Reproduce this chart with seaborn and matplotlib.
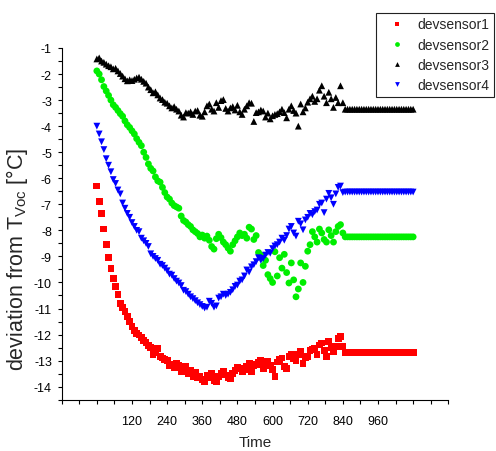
import matplotlib
matplotlib.use('Agg')
import matplotlib.pyplot as plt
import seaborn as sns
import pandas as pd

# sampling grid (s) and the values
time = list(range(0, 848, 8))
hold_time = list(range(848, 1088, 8))

sensor_names = ['devsensor1', 'devsensor2', 'devsensor3', 'devsensor4']
sensor_colors = ['#ff0000', '#00ee00', '#000000', '#0000ff']
sensor_markers = ['s', 'o', '^', 'v']

devsensor1 = [
    -6.3, -6.9, -7.35, -7.95, -8.55, -9.05, -9.45, -9.85, -10.15, -10.45,
    -10.8, -10.95, -11.12, -11.3, -11.5, -11.7, -11.85, -11.95, -12.02, -12.12,
    -12.22, -12.3, -12.42, -12.5, -12.75, -12.7, -12.55, -12.85, -12.9, -12.95,
    -12.98, -13.18, -13.15, -13.25, -13.1, -13.2, -13.42, -13.28, -13.22, -13.5,
    -13.38, -13.6, -13.45, -13.65, -13.6, -13.72, -13.8, -13.55, -13.65, -13.5,
    -13.75, -13.82, -13.6, -13.5, -13.42, -13.55, -13.65, -13.68, -13.48, -13.38,
    -13.25, -13.3, -13.42, -13.35, -13.22, -13.12, -13.42, -13.2, -13.15, -13.05,
    -13.0, -13.3, -13.05, -13.02, -13.18, -13.35, -13.62, -13.05, -12.95, -12.9,
    -13.22, -13.3, -12.85, -12.78, -12.92, -12.98, -12.75, -12.65, -13.1, -12.88,
    -12.85, -12.62, -12.58, -12.52, -12.78, -12.4, -12.32, -12.6, -12.85, -12.28,
    -12.5, -12.66, -12.45, -12.15, -12.08, -12.47,
]
devsensor2 = [
    -1.88, -2.0, -2.22, -2.48, -2.65, -2.82, -3.0, -3.18, -3.28, -3.4,
    -3.52, -3.62, -3.8, -3.95, -4.05, -4.18, -4.3, -4.48, -4.62, -4.75,
    -5.0, -5.2, -5.45, -5.62, -5.72, -5.95, -6.1, -6.15, -6.35, -6.55,
    -6.72, -6.8, -6.95, -7.05, -7.1, -7.15, -7.45, -7.62, -7.68, -7.78,
    -7.85, -7.98, -8.05, -8.12, -8.25, -8.18, -8.3, -8.22, -8.38, -8.62,
    -8.72, -8.32, -8.15, -8.28, -8.45, -8.55, -8.68, -8.8, -8.55, -8.4,
    -8.25, -8.1, -8.2, -8.15, -8.3, -7.88, -7.95, -8.35, -8.2, -8.85,
    -8.95, -9.35, -9.15, -9.7, -9.85, -10.0, -8.82, -9.75, -9.05, -9.45,
    -8.92, -9.62, -10.02, -9.25, -9.9, -10.55, -10.25, -9.25, -10.0, -9.38,
    -8.8, -8.55, -8.05, -8.25, -8.45, -7.95, -8.1, -8.35, -8.45, -7.98,
    -8.2, -8.45, -8.05, -7.85, -7.78, -8.1,
]
devsensor3 = [
    -1.42, -1.38, -1.5, -1.55, -1.62, -1.68, -1.72, -1.8, -1.78, -1.88,
    -1.98, -2.08, -2.18, -2.26, -2.22, -2.25, -2.2, -2.15, -2.12, -2.2,
    -2.28, -2.35, -2.5, -2.6, -2.72, -2.68, -2.8, -2.92, -2.98, -3.08,
    -3.12, -3.22, -3.3, -3.25, -3.35, -3.42, -3.58, -3.65, -3.48, -3.5,
    -3.45, -3.55, -3.42, -3.4, -3.58, -3.62, -3.45, -3.22, -3.15, -3.35,
    -3.42, -3.1, -3.28, -3.02, -2.98, -3.32, -3.42, -3.3, -3.25, -3.38,
    -3.2, -3.45, -3.55, -3.35, -3.22, -3.1, -3.12, -3.82, -3.48, -3.45,
    -3.38, -3.42, -3.65, -3.5, -3.72, -3.6, -3.55, -3.52, -3.45, -3.35,
    -3.48, -3.68, -3.35, -3.22, -3.4, -3.5, -4.0, -3.15, -3.45, -3.3,
    -3.08, -2.95, -2.85, -3.05, -2.95, -2.62, -2.45, -2.85, -3.1, -2.7,
    -2.95, -3.28, -2.9, -3.1, -2.45, -3.1,
]
devsensor4 = [
    -4.0, -4.3, -4.6, -4.9, -5.25, -5.5, -5.75, -6.05, -6.2, -6.45,
    -6.6, -6.95, -7.15, -7.35, -7.5, -7.7, -7.85, -8.0, -8.05, -8.3,
    -8.4, -8.5, -8.62, -8.9, -9.0, -9.08, -9.15, -9.3, -9.35, -9.45,
    -9.55, -9.68, -9.72, -9.85, -9.95, -10.02, -10.12, -10.3, -10.35, -10.45,
    -10.55, -10.62, -10.7, -10.78, -10.85, -10.92, -10.98, -10.95, -10.72, -10.8,
    -10.95, -10.9, -10.6, -10.55, -10.45, -10.5, -10.45, -10.38, -10.28, -10.15,
    -10.1, -9.95, -9.9, -9.75, -9.52, -9.6, -9.4, -9.32, -9.2, -9.05,
    -9.15, -9.08, -8.95, -8.85, -8.88, -8.7, -8.6, -8.55, -8.45, -8.3,
    -8.38, -8.2, -7.95, -7.85, -8.1, -8.22, -7.65, -7.75, -7.98, -7.6,
    -7.5, -7.35, -7.4, -7.28, -7.22, -7.0, -6.95, -7.32, -6.8, -6.58,
    -6.75, -7.0, -6.6, -6.35, -6.3, -6.55,
]
# level each sensor is held at after ~850 s
hold_level = [-12.68, -8.25, -3.35, -6.53]

x_major = list(range(-120, 1201, 120))
x_labels = ['120', '240', '360', '480', '600', '720', '840', '960']
y_major = list(range(-14, 0))


def build_frame():
    parts = []
    series = [devsensor1, devsensor2, devsensor3, devsensor4]
    for name, values, level in zip(sensor_names, series, hold_level):
        parts.append(pd.DataFrame({'Time': time, 'dev': values, 'sensor': name}))
        parts.append(pd.DataFrame({'Time': hold_time, 'dev': level, 'sensor': name}))
    return pd.concat(parts, ignore_index=True)


def make_plot():
    df = build_frame()

    sns.set_style('ticks')
    plt.rcParams['font.family'] = ['Liberation Sans', 'DejaVu Sans']
    plt.rcParams['mathtext.fontset'] = 'custom'
    plt.rcParams['mathtext.rm'] = 'Liberation Sans'
    plt.rcParams['axes.unicode_minus'] = False

    fig = plt.figure(figsize=(4.96, 4.52), dpi=100)
    ax = fig.add_axes([0.1244, 0.1135, 0.7794, 0.7781])

    sns.scatterplot(data=df, x='Time', y='dev', hue='sensor', style='sensor',
                    palette=dict(zip(sensor_names, sensor_colors)),
                    markers=dict(zip(sensor_names, sensor_markers)),
                    s=24, linewidth=0, ax=ax)

    ax.set_xlim(-120, 1200)
    ax.set_ylim(-14.5, -1)

    xl = [''] * len(x_major)
    for i, t in enumerate(x_major):
        if str(t) in x_labels:
            xl[i] = str(t)
    ax.set_xticks(x_major, labels=xl)
    ax.set_xticks([t + 60 for t in x_major[:-1]], minor=True)
    ax.set_yticks(y_major, labels=[str(v) for v in y_major])
    ax.set_yticks([v + 0.5 for v in range(-15, -1)], minor=True)

    ax.tick_params(which='both', direction='out', length=3, width=0.8, colors='black')
    ax.tick_params(axis='x', which='major', labelsize=9, pad=8)
    ax.tick_params(axis='y', which='major', labelsize=9, pad=4)
    sns.despine(ax=ax)
    for sp in ['left', 'bottom']:
        ax.spines[sp].set_linewidth(0.8)
        ax.spines[sp].set_color('black')

    ax.set_xlabel('Time', fontsize=11)
    ax.set_ylabel('deviation from T$_{\\rm Voc}$ [°C]', fontsize=15.5)
    ax.xaxis.set_label_coords(0.5, -0.119)
    ax.xaxis.label.set_va('center')
    ax.yaxis.set_label_coords(-0.116, 0.403)
    ax.yaxis.label.set_va('center')

    handles, labels = ax.get_legend_handles_labels()
    leg = ax.legend(handles, labels, loc='upper left', bbox_to_anchor=(0.758, 0.97),
                    bbox_transform=fig.transFigure, frameon=True, fancybox=False,
                    edgecolor='#222222', framealpha=1, fontsize=10, markerscale=0.7,
                    handlelength=2.3, handletextpad=0.3, labelspacing=0.45,
                    borderpad=0.35, borderaxespad=0)
    leg.get_frame().set_linewidth(0.8)

    plt.savefig('out.png', dpi=100)


if __name__ == '__main__':
    make_plot()
